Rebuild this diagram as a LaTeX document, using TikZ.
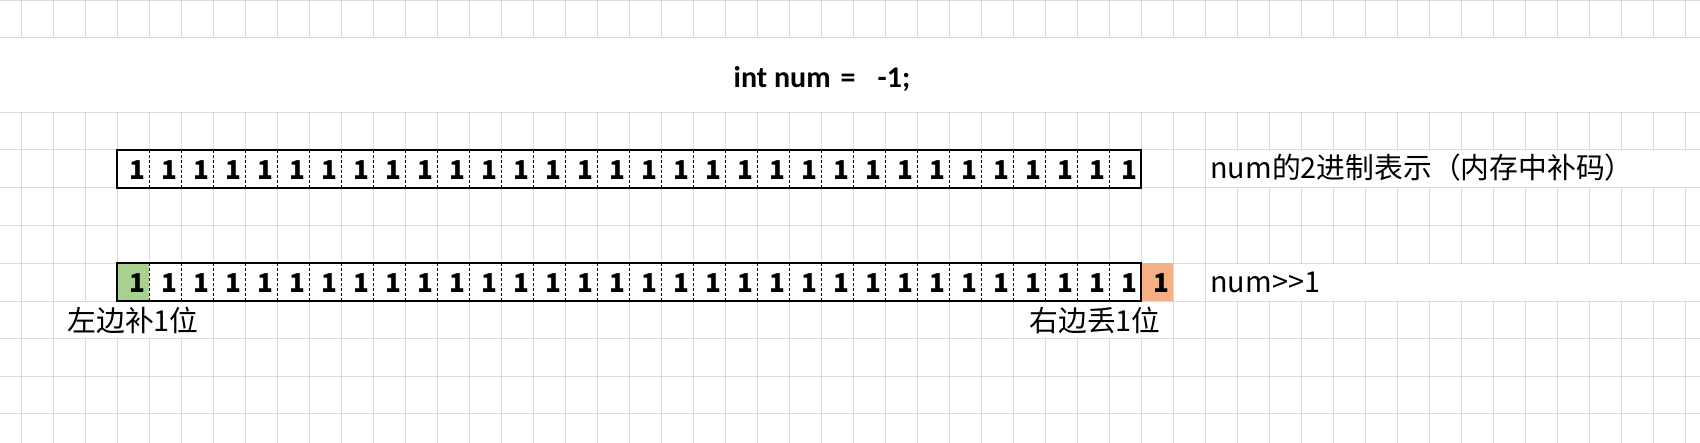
\documentclass[tikz,border=0pt]{standalone}
\usepackage{fontspec}
\setmainfont{Carlito}
\newfontfamily\cjk{Noto Sans CJK SC}
\usepackage{xcolor}
\definecolor{gridline}{HTML}{DADADA}
\definecolor{keepgreen}{HTML}{A9D08E}
\definecolor{droporange}{HTML}{F4B084}

\begin{document}
\begin{tikzpicture}[x=.5pt,y=-.5pt,
 bit/.style={anchor=base east, inner sep=0pt, font=\cjk\bfseries\fontsize{13}{16}\selectfont},
 note/.style={inner sep=0pt, font=\cjk\fontsize{14.4}{17}\selectfont},
 cellsep/.style={black, line width=.5pt, dash pattern=on 1.5pt off 1pt}]
\useasboundingbox (0,0) rectangle (1700,443);
\fill[white] (0,0) rectangle (1700,443);
% sheet grid
\foreach \x in {21,53,...,1685} {
 \draw[gridline, line width=.5pt] (\x,0) --++(0,38);
 \draw[gridline, line width=.5pt] (\x,113) -- (\x,443);
}
\foreach \y in {1,38,113,150,188,225,263,301,338,376,413}
 \draw[gridline, line width=.5pt] (0,\y) --++(1700,0);
% text runs over these cells
\fill[white] (1206,150.6) rectangle (1700,187.4);
\fill[white] (1206,263.6) rectangle (1700,300.4);
\fill[white] (54,301.6) rectangle (212,337.4);
\fill[white] (1014,301.6) rectangle (1172,337.4);

% num before the shift
\fill[white] (117,150) rectangle (1141,188);
\foreach \i [evaluate=\i as \xr using int(117+32*\i)] in {1,...,31}
 \draw[cellsep] (\xr,150) --++(0,38);
\draw[black, line width=1pt] (117,150) rectangle (1141,188);
\foreach \i [evaluate=\i as \xe using int(146+32*\i)] in {0,...,31}
 \node[bit] (top\i) at (\xe,180) {1};

% num>>1
\fill[white] (117,263) rectangle (1141,301);
\fill[keepgreen] (117,263) rectangle (149,301);
\fill[droporange] (1141,263) rectangle (1173,301);
\foreach \i [evaluate=\i as \xr using int(117+32*\i)] in {1,...,31}
 \draw[cellsep] (\xr,263) --++(0,38);
\draw[black, line width=1pt] (117,263) rectangle (1141,301);
\foreach \i [evaluate=\i as \xe using int(146+32*\i)] in {0,...,31}
 \node[bit] (bot\i) at (\xe,292) {1};
\node[bit] (lost) at (1170,292) {1};

\node[anchor=base, inner sep=0pt, font=\bfseries\fontsize{15}{17}\selectfont] (code) at (822,88) {int num\hspace{5pt}=\hspace{11pt}-1;};
\node[note, anchor=base west] (before) at (1210,179) {num的2进制表示（内存中补码）};
\node[note, anchor=base west] (after) at (1210,292) {num>{}>1};
\node[note, anchor=base] (leftnote) at (133,331) {左边补1位};
\node[note, anchor=base] (rightnote) at (1095,331) {右边丢1位};
\end{tikzpicture}
\end{document}
